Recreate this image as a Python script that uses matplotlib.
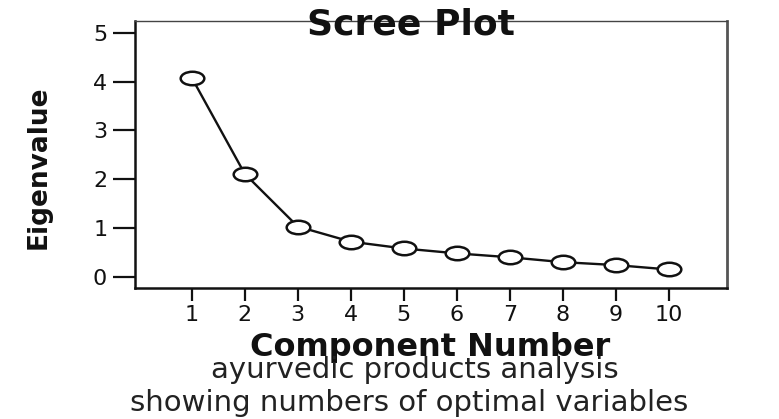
"""Scree plot for the ayurvedic products factor analysis."""

import matplotlib
matplotlib.use('Agg')
import matplotlib.pyplot as plt
from matplotlib.path import Path
from matplotlib.transforms import Affine2D

COMPONENTS  = [1, 2, 3, 4, 5, 6, 7, 8, 9, 10]
EIGENVALUES = [4.08, 2.11, 1.03, 0.72, 0.58, 0.48, 0.40, 0.30, 0.24, 0.15]
Y_TICKS     = [0, 1, 2, 3, 4, 5]

TITLE    = 'Scree Plot'
Y_LABEL  = 'Eigenvalue'
X_LABEL  = 'Component Number'
CAPTION1 = 'ayurvedic products analysis'
CAPTION2 = 'showing numbers of optimal variables'

plt.rcParams.update({
    'font.family':       ['DejaVu Sans'],
    'font.size':         16,
    'figure.dpi':        100,
    'savefig.dpi':       100,
})


def fig_scree():
    fig = plt.figure(figsize=(7.79, 4.19))
    ax = fig.add_axes([0.1733, 0.3126, 0.7600, 0.6373])

    # SPSS export is stretched sideways, so the open circles are ellipses
    ellipse = Path.unit_circle().transformed(Affine2D().scale(1.75, 1.0))
    ax.plot(COMPONENTS, EIGENVALUES, '-', color='#111', linewidth=1.7,
            marker=ellipse, markersize=17, markerfacecolor='white',
            markeredgecolor='#111', markeredgewidth=1.8)

    ax.set_xlim(-0.07, 11.1)
    ax.set_ylim(-0.23, 5.24)
    ax.set_xticks(COMPONENTS)
    ax.set_yticks(Y_TICKS)
    ax.tick_params(axis='y', length=16, width=1.6, pad=4, labelsize=16,
                   colors='#111')
    ax.tick_params(axis='x', length=9, width=1.6, pad=3, labelsize=16,
                   colors='#111')

    ax.spines['left'].set_linewidth(1.8)
    ax.spines['bottom'].set_linewidth(1.8)
    ax.spines['left'].set_color('#111')
    ax.spines['bottom'].set_color('#111')
    ax.spines['top'].set_linewidth(1.0)
    ax.spines['top'].set_color('#444')
    ax.spines['right'].set_linewidth(2.0)
    ax.spines['right'].set_color('#555')

    fig.text(0.5276, 0.9165, TITLE, ha='center', va='baseline',
             fontsize=26, fontweight='bold', color='#111')
    fig.text(0.0500, 0.6014, Y_LABEL, ha='center', va='center',
             rotation=90, fontsize=19, fontweight='bold', color='#111')
    fig.text(0.552, 0.1500, X_LABEL, ha='center', va='baseline',
             fontsize=23, fontweight='bold', color='#111')
    fig.text(0.5327, 0.0990, CAPTION1, ha='center', va='baseline',
             fontsize=21, color='#222')
    fig.text(0.525, 0.0180, CAPTION2, ha='center', va='baseline',
             fontsize=21, color='#222')

    fig.savefig('out.png', facecolor='white')
    plt.close(fig)


def main():
    fig_scree()


if __name__ == '__main__':
    main()
